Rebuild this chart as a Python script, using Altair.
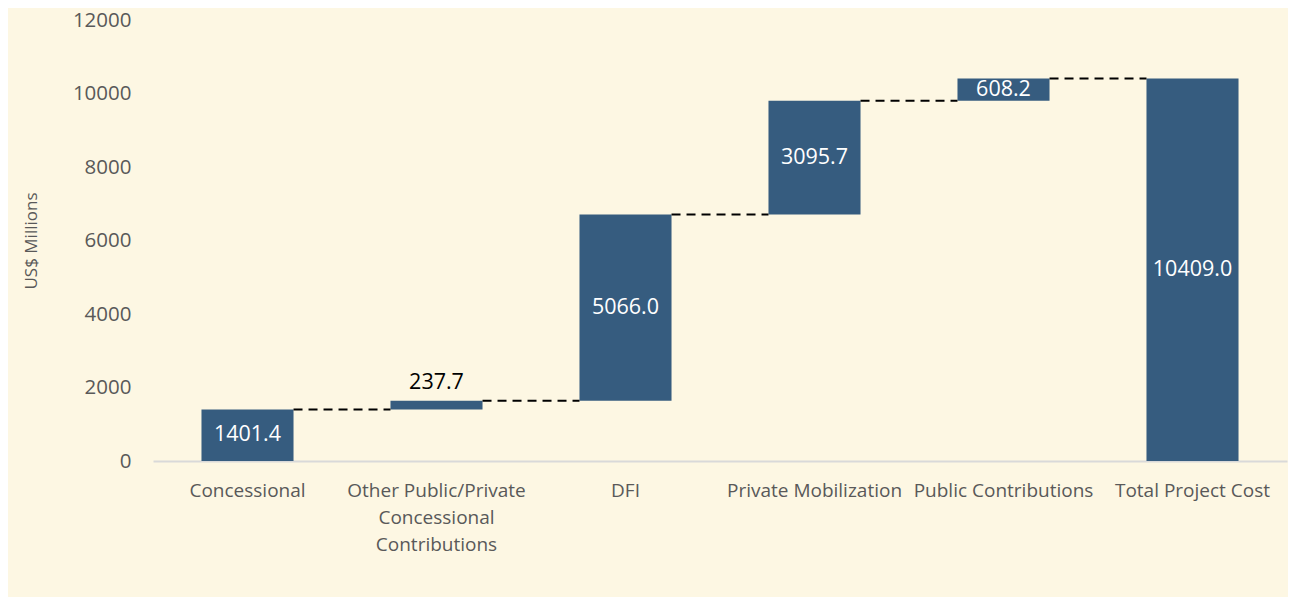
import altair as alt
import pandas as pd

categories = ["Concessional", "Other Public/Private Concessional Contributions", "DFI",
              "Private Mobilization", "Public Contributions", "Total Project Cost"]
values = [1401.4, 237.7, 5066.0, 3095.7, 608.2, 10409.0]
is_total = [False, False, False, False, False, True]
y_ticks = [0, 2000, 4000, 6000, 8000, 10000, 12000]

rows = []
running = 0.0
for c, v, t in zip(categories, values, is_total):
    if t:
        start, end = 0.0, v
    else:
        start, end = running, running + v
    running = end
    rows.append({"cat": c, "value": v, "start": start, "end": end, "mid": (start + end) / 2})
df = pd.DataFrame(rows)

conn = pd.DataFrame({
    "cat": categories[:-1],
    "next": categories[1:],
    "level": df["end"].tolist()[:-1],
})

BG = "#FDF7E3"
BAR = "#365C7F"
TXT = "#595959"
FONT = "Open Sans"

xscale = alt.Scale(domain=categories, paddingInner=0.513, paddingOuter=0.2565)
yscale = alt.Scale(domain=[0, 12000])

label_expr = ("datum.value == 'Other Public/Private Concessional Contributions' ? "
              "['Other Public/Private', 'Concessional', 'Contributions'] : datum.label")

base = alt.Chart(df)

bars = base.mark_bar(color=BAR).encode(
    x=alt.X("cat:N", scale=xscale, title=None,
            axis=alt.Axis(labelAngle=0, labelExpr=label_expr, labelFont=FONT, labelFontSize=19,
                          labelColor=TXT, labelPadding=20, labelLineHeight=27, ticks=False,
                          domainColor="#D9D9D9", domainWidth=2, labelLimit=300)),
    y=alt.Y("start:Q", scale=yscale, title="US$ Millions",
            axis=alt.Axis(values=y_ticks, format="d", grid=False, domain=False, ticks=False,
                          labelFont=FONT, labelFontSize=20.5, labelColor=TXT, labelPadding=22,
                          titleFont=FONT, titleFontSize=17, titleColor=TXT,
                          titleFontWeight="normal", titlePadding=32)),
    y2="end:Q",
)

inside = base.transform_filter("datum.value >= 400").mark_text(
    color="white", font=FONT, fontSize=21.5, baseline="middle"
).encode(
    x=alt.X("cat:N", scale=xscale),
    y=alt.Y("mid:Q", scale=yscale),
    text=alt.Text("value:Q", format=".1f"),
)

outside = base.transform_filter("datum.value < 400").mark_text(
    color="black", font=FONT, fontSize=21.5, baseline="alphabetic", dy=-12
).encode(
    x=alt.X("cat:N", scale=xscale),
    y=alt.Y("end:Q", scale=yscale),
    text=alt.Text("value:Q", format=".1f"),
)

rules = alt.Chart(conn).mark_rule(color="black", strokeWidth=2, strokeDash=[9, 6]).encode(
    x=alt.X("cat:N", scale=xscale, bandPosition=1),
    x2=alt.X2("next:N", bandPosition=0),
    y=alt.Y("level:Q", scale=yscale),
)

chart = alt.layer(bars, rules, inside, outside).properties(
    width=1134, height=441,
    padding={"left": 145, "top": 12, "right": 1, "bottom": 136},
    autosize=alt.AutoSizeParams(type="none"),
    background=BG,
).configure_view(stroke=None)

chart.save("out.html", embed_options={"renderer": "svg", "actions": False})
